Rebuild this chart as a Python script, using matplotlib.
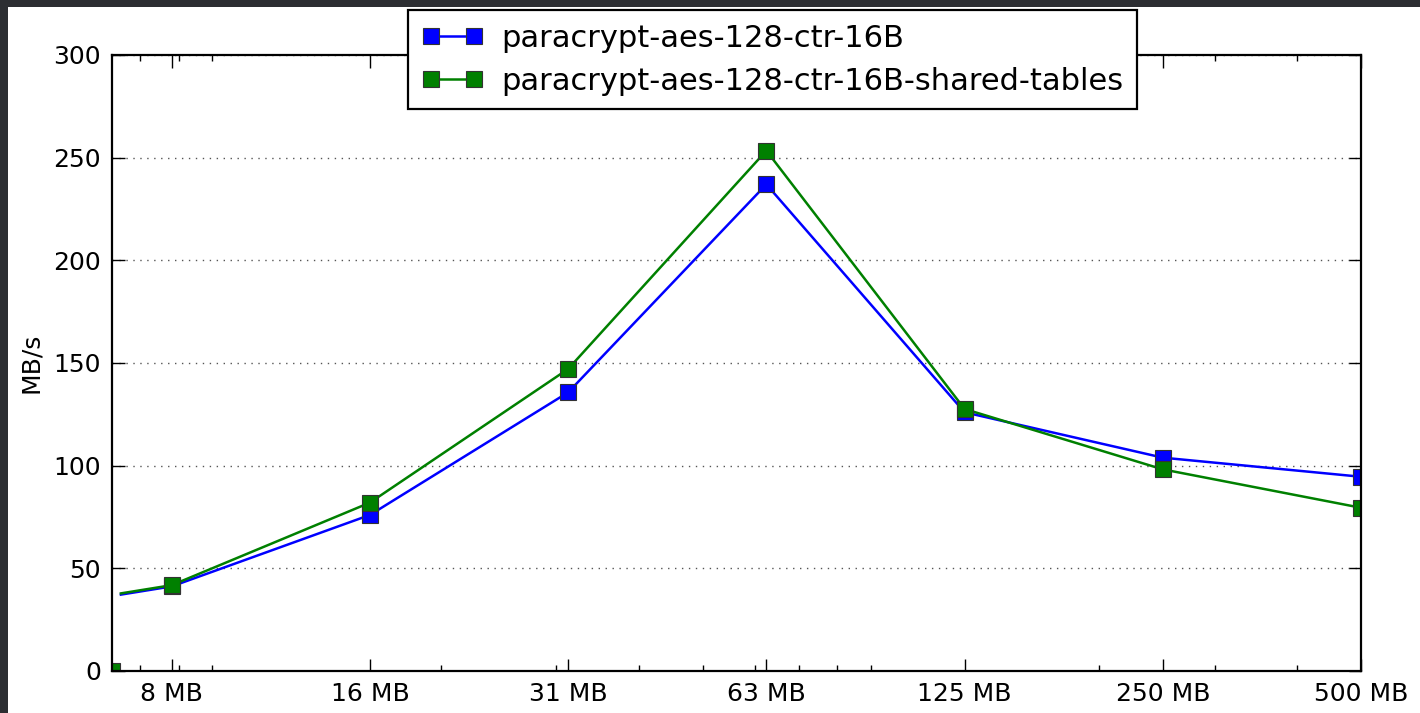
import matplotlib
matplotlib.use("Agg")
import matplotlib.pyplot as plt
from matplotlib.ticker import LogLocator, NullFormatter, FixedLocator, FixedFormatter
from matplotlib.patches import Rectangle

# ---- data ----
sizes_mb = [6.54, 7.8125, 15.625, 31.25, 62.5, 125, 250, 500]
tick_labels = ["8 MB", "16 MB", "31 MB", "63 MB", "125 MB", "250 MB", "500 MB"]
series_names = ["paracrypt-aes-128-ctr-16B", "paracrypt-aes-128-ctr-16B-shared-tables"]
blue_vals = [37.2, 41.2, 76.0, 135.7, 237.0, 126.0, 103.9, 94.6]
green_vals = [37.8, 41.8, 82.0, 147.1, 253.4, 127.6, 98.2, 79.5]
y_ticks = [0, 50, 100, 150, 200, 250, 300]
x_lo, x_hi = 6.34, 500

W, H = 1420, 713
fig = plt.figure(figsize=(W / 100, H / 100), dpi=100, facecolor="white")
border = "#2c2e32"
fig.patches.append(Rectangle((0, 0), 8 / W, 1, transform=fig.transFigure,
                             facecolor=border, edgecolor="none", zorder=-10))
fig.patches.append(Rectangle((0, 1 - 7 / H), 1, 7 / H, transform=fig.transFigure,
                             facecolor=border, edgecolor="none", zorder=-10))

ax = fig.add_axes([112 / W, 1 - 671 / H, (1361 - 112) / W, (671 - 55) / H])
ax.set_facecolor("white")

ax.set_xscale("log")
ax.set_xlim(x_lo, x_hi)
ax.set_ylim(0, 300)

ax.yaxis.grid(True, linestyle=":", color="#555555", linewidth=1.0, dashes=(1, 4))
ax.set_axisbelow(True)

lb, = ax.plot(sizes_mb, blue_vals, color="blue", lw=1.8, marker="s", ms=12,
              mec="#333333", mew=0.8, markevery=list(range(1, len(sizes_mb))),
              label=series_names[0], clip_on=True)
lg, = ax.plot(sizes_mb, green_vals, color="green", lw=1.8, marker="s", ms=12,
              mec="#333333", mew=0.8, markevery=list(range(1, len(sizes_mb))),
              label=series_names[1], clip_on=True)
# stray point drawn at the lower-left corner in the original
ax.plot([x_lo], [0], color="green", marker="s", ms=12, mec="#333333", mew=0.8,
        linestyle="none", clip_on=True)

ax.xaxis.set_major_locator(FixedLocator(sizes_mb[1:]))
ax.xaxis.set_major_formatter(FixedFormatter(tick_labels))
ax.xaxis.set_minor_locator(LogLocator(base=10, subs=range(2, 10)))
ax.xaxis.set_minor_formatter(NullFormatter())
ax.set_yticks(y_ticks)

ax.tick_params(which="major", direction="in", length=9, width=1.0, top=True, right=True,
               labelsize=18, pad=8, colors="black")
ax.tick_params(which="minor", direction="in", length=4.5, width=1.0, top=True, right=True)
for s in ax.spines.values():
    s.set_linewidth(1.6)
    s.set_color("black")

ax.set_ylabel("MB/s", fontsize=18, labelpad=7)

leg = fig.legend(handles=[lb, lg], loc="upper center", bbox_to_anchor=(772.5 / W, 1 - 10 / H),
                 fontsize=22, numpoints=2, markerscale=0.95, handlelength=2.0, fancybox=False,
                 framealpha=1, edgecolor="black", borderpad=0.45, labelspacing=0.45,
                 handletextpad=0.6, borderaxespad=0)
leg.get_frame().set_linewidth(1.6)

fig.savefig("out.png", dpi=100, facecolor=fig.get_facecolor())
